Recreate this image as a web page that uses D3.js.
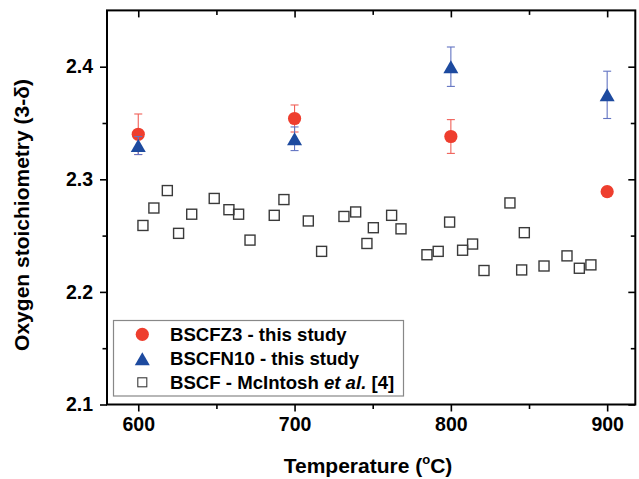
<!DOCTYPE html>
<html>
<head>
<meta charset="utf-8">
<script src="https://cdn.jsdelivr.net/npm/d3@7/dist/d3.min.js"></script>
<style>
  body { margin: 0; background: #fff; }
  text { font-family: "Liberation Sans", Arial, sans-serif; font-weight: bold; fill: #000; }
</style>
</head>
<body>
<svg width="639" height="479"></svg>
<script>
// this study
var temps = [600, 700, 800, 900];
var bscfz3 = [2.340, 2.354, 2.338, 2.289];
var bscfz3Err = [0.018, 0.012, 0.015, 0.004];
var bscfn10 = [2.330, 2.336, 2.400, 2.375];
var bscfn10Err = [0.008, 0.0105, 0.0175, 0.021];

// McIntosh et al.
var bscfT = [603, 610, 618.6, 625.8, 634.2, 648.6, 658, 664.2, 671.5, 687, 693.2,
  708.8, 717.3, 731.6, 739.1, 746.3, 750.4, 762.1, 768.1, 784.7, 791.9, 799.2,
  807.5, 813.9, 821.2, 837.8, 847, 845.3, 859.6, 874.3, 882.2, 889.6];
var bscfV = [2.259, 2.2745, 2.290, 2.252, 2.269, 2.283, 2.273, 2.269, 2.246, 2.268, 2.282,
  2.263, 2.236, 2.267, 2.271, 2.243, 2.257, 2.268, 2.256, 2.233, 2.236, 2.262,
  2.237, 2.2425, 2.219, 2.279, 2.2526, 2.2195, 2.223, 2.232, 2.221, 2.224];

var xMajor = [600, 700, 800, 900];
var xMinor = [650, 750, 850];
var yMajor = [2.1, 2.2, 2.3, 2.4];
var yMinor = [2.15, 2.25, 2.35];

var red = "#ee3e2e", redErr = "#f06058";
var blue = "#1d4a9f", blueErr = "#6274c2";

var svg = d3.select("svg");
var x = d3.scaleLinear().domain([580, 918]).range([107, 635.3]);
var y = d3.scaleLinear().domain([2.1, 2.45]).range([404.5, 10.4]);
var x0 = x.range()[0], x1 = x.range()[1], y0 = y.range()[0], y1 = y.range()[1];

// axes: bottom/left ticks outward, top/right mirror inward
svg.append("g").attr("transform", "translate(0," + y0 + ")")
  .call(d3.axisBottom(x).tickValues(xMajor).tickSize(7).tickSizeOuter(0).tickPadding(6).tickFormat(d3.format("d")))
  .call(g => g.selectAll("text").attr("font-size", 19.5).attr("font-family", null).attr("font-weight", "bold"));
svg.append("g").attr("transform", "translate(0," + y0 + ")")
  .call(d3.axisBottom(x).tickValues(xMinor).tickSize(4.5).tickSizeOuter(0).tickFormat(""));
svg.append("g").attr("transform", "translate(" + x0 + ",0)")
  .call(d3.axisLeft(y).tickValues(yMajor).tickSize(7).tickSizeOuter(0).tickPadding(7).tickFormat(d3.format(".1f")))
  .call(g => g.selectAll("text").attr("font-size", 19.5).attr("font-family", null).attr("font-weight", "bold"));
svg.append("g").attr("transform", "translate(" + x0 + ",0)")
  .call(d3.axisLeft(y).tickValues(yMinor).tickSize(4.5).tickSizeOuter(0).tickFormat(""));
svg.append("g").attr("transform", "translate(0," + y1 + ")")
  .call(d3.axisBottom(x).tickValues(xMajor).tickSize(7).tickSizeOuter(0).tickFormat(""));
svg.append("g").attr("transform", "translate(0," + y1 + ")")
  .call(d3.axisBottom(x).tickValues(xMinor).tickSize(4.5).tickSizeOuter(0).tickFormat(""));
svg.append("g").attr("transform", "translate(" + x1 + ",0)")
  .call(d3.axisLeft(y).tickValues(yMajor).tickSize(7).tickSizeOuter(0).tickFormat(""));
svg.append("g").attr("transform", "translate(" + x1 + ",0)")
  .call(d3.axisLeft(y).tickValues(yMinor).tickSize(4.5).tickSizeOuter(0).tickFormat(""));
svg.selectAll(".domain").remove();
svg.selectAll(".tick line").attr("stroke", "#000").attr("stroke-width", 1.6);

svg.append("rect")
  .attr("x", x0).attr("y", y1).attr("width", x1 - x0).attr("height", y0 - y1)
  .attr("fill", "none").attr("stroke", "#000").attr("stroke-width", 2);

// McIntosh squares
svg.append("g").selectAll("rect")
  .data(bscfT.map((t, i) => ({t: t, v: bscfV[i]})))
  .enter().append("rect")
    .attr("x", d => x(d.t) - 5).attr("y", d => y(d.v) - 5)
    .attr("width", 10).attr("height", 10)
    .attr("fill", "none").attr("stroke", "#3a3a3a").attr("stroke-width", 1.4);

function errorBars(vals, errs, color) {
  var g = svg.append("g").attr("stroke", color).attr("stroke-width", 1.1);
  temps.forEach(function(t, i) {
    var cx = x(t), hi = y(vals[i] + errs[i]), lo = y(vals[i] - errs[i]);
    g.append("line").attr("x1", cx).attr("x2", cx).attr("y1", hi).attr("y2", lo);
    g.append("line").attr("x1", cx - 4).attr("x2", cx + 4).attr("y1", hi).attr("y2", hi);
    g.append("line").attr("x1", cx - 4).attr("x2", cx + 4).attr("y1", lo).attr("y2", lo);
  });
}

function triPath(cx, cy, w, h) {
  return "M" + cx + "," + (cy - h / 2) + "L" + (cx + w / 2) + "," + (cy + h / 2) +
    "L" + (cx - w / 2) + "," + (cy + h / 2) + "Z";
}

errorBars(bscfz3, bscfz3Err, redErr);
svg.append("g").selectAll("circle")
  .data(temps.map((t, i) => ({t: t, v: bscfz3[i]})))
  .enter().append("circle")
    .attr("cx", d => x(d.t)).attr("cy", d => y(d.v)).attr("r", 6.6)
    .attr("fill", red);

errorBars(bscfn10, bscfn10Err, blueErr);
svg.append("g").selectAll("path")
  .data(temps.map((t, i) => ({t: t, v: bscfn10[i]})))
  .enter().append("path")
    .attr("d", d => triPath(x(d.t), y(d.v), 15, 13))
    .attr("fill", blue);

// legend
var leg = svg.append("g");
leg.append("rect").attr("x", 113.5).attr("y", 320.5).attr("width", 290).attr("height", 75.5)
  .attr("fill", "#fff").attr("stroke", "#888").attr("stroke-width", 1.2);
var rows = [334.3, 358.7, 382.3];
leg.append("circle").attr("cx", 142.3).attr("cy", rows[0]).attr("r", 6.6).attr("fill", red);
leg.append("path").attr("d", triPath(142.3, rows[1], 15, 13)).attr("fill", blue);
leg.append("rect").attr("x", 137.8).attr("y", rows[2] - 4.5).attr("width", 9).attr("height", 9)
  .attr("fill", "none").attr("stroke", "#3a3a3a").attr("stroke-width", 1.1);
leg.append("text").attr("x", 170).attr("y", rows[0] + 6.5).attr("font-size", 18.6).text("BSCFZ3 - this study");
leg.append("text").attr("x", 170).attr("y", rows[1] + 6.5).attr("font-size", 18.6).text("BSCFN10 - this study");
var t3 = leg.append("text").attr("x", 170).attr("y", rows[2] + 6.5).attr("font-size", 18.6);
t3.append("tspan").text("BSCF - McIntosh ");
t3.append("tspan").attr("font-style", "italic").text("et al.");
t3.append("tspan").text(" [4]");

// axis titles
var xt = svg.append("text").attr("x", 368).attr("y", 473).attr("text-anchor", "middle").attr("font-size", 21);
xt.append("tspan").text("Temperature (");
xt.append("tspan").attr("font-size", 13).attr("dy", -9).text("o");
xt.append("tspan").attr("dy", 9).text("C)");

svg.append("text")
  .attr("transform", "translate(29,215) rotate(-90)")
  .attr("text-anchor", "middle").attr("font-size", 21)
  .text("Oxygen stoichiometry (3-\u03b4)");
</script>
</body>
</html>
